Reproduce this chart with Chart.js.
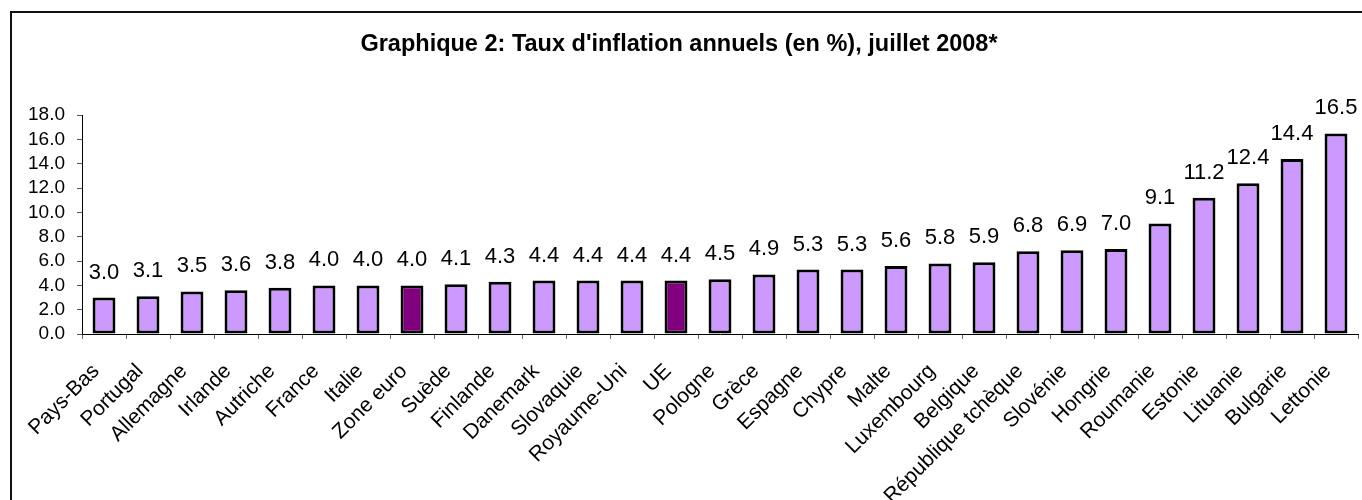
<!DOCTYPE html>
<html>
<head>
<meta charset="utf-8">
<script src="https://cdn.jsdelivr.net/npm/chart.js@4/dist/chart.umd.min.js"></script>
<style>
  body { margin: 0; background: #fff; }
  .frame { position: absolute; left: 10px; top: 11px; width: 1400px; height: 560px; border: 2px solid #111; }
  .wrap { position: absolute; left: 0; top: 0; width: 1362px; height: 500px; }
</style>
</head>
<body>
<div class="frame"></div>
<div class="wrap"><canvas id="inflation"></canvas></div>
<script>
// data
let countries = [
  'Pays-Bas', 'Portugal', 'Allemagne', 'Irlande', 'Autriche', 'France', 'Italie',
  'Zone euro', 'Suède', 'Finlande', 'Danemark', 'Slovaquie', 'Royaume-Uni', 'UE',
  'Pologne', 'Grèce', 'Espagne', 'Chypre', 'Malte', 'Luxembourg', 'Belgique',
  'République tchèque', 'Slovénie', 'Hongrie', 'Roumanie', 'Estonie', 'Lituanie',
  'Bulgarie', 'Lettonie'
];
let rates = [
  3.0, 3.1, 3.5, 3.6, 3.8, 4.0, 4.0,
  4.0, 4.1, 4.3, 4.4, 4.4, 4.4, 4.4,
  4.5, 4.9, 5.3, 5.3, 5.6, 5.8, 5.9,
  6.8, 6.9, 7.0, 9.1, 11.2, 12.4,
  14.4, 16.5
];
let highlighted = ['Zone euro', 'UE'];
let yTicks = [0, 2, 4, 6, 8, 10, 12, 14, 16, 18];

let colorBar = '#CC99FF';
let colorHighlight = '#800080';
let fontFamily = '"Liberation Sans", Arial, sans-serif';

// value labels above bars
let valueLabels = {
  id: 'valueLabels',
  afterDatasetsDraw(chart) {
    let ctx = chart.ctx;
    let meta = chart.getDatasetMeta(0);
    ctx.save();
    ctx.font = '22px ' + fontFamily;
    ctx.fillStyle = '#000';
    ctx.textAlign = 'center';
    ctx.textBaseline = 'alphabetic';
    meta.data.forEach((bar, i) => {
      ctx.fillText(rates[i].toFixed(1), bar.x, bar.y - 19);
    });
    ctx.restore();
  }
};

let chartCanvas = document.querySelector('#inflation');
new Chart(chartCanvas, {
  type: 'bar',
  plugins: [valueLabels],
  options: {
    responsive: true,
    maintainAspectRatio: false,
    animation: false,
    layout: {
      padding: { left: 0, right: 4, top: 0, bottom: 0 }
    },
    plugins: {
      legend: { display: false },
      tooltip: { enabled: false },
      title: {
        display: true,
        text: "Graphique 2: Taux d'inflation annuels (en %), juillet 2008*",
        color: '#000',
        font: { family: fontFamily, size: 23.5, weight: 'bold' },
        padding: { top: 30, bottom: 57 }
      }
    },
    scales: {
      x: {
        afterFit(scale) {
          scale.height = 166;
          scale.paddingLeft = 0;
          scale.paddingRight = 0;
        },
        grid: {
          display: true,
          drawOnChartArea: false,
          drawTicks: true,
          tickLength: 5,
          color: '#666',
          offset: true
        },
        border: { display: true, color: '#000', width: 1 },
        ticks: {
          autoSkip: false,
          maxRotation: 45,
          minRotation: 45,
          padding: 20,
          labelOffset: -8,
          color: '#000',
          font: { family: fontFamily, size: 21 }
        }
      },
      y: {
        min: 0,
        max: 18,
        afterFit(scale) {
          scale.width = 82;
          scale.paddingTop = 0;
          scale.paddingBottom = 0;
        },
        afterBuildTicks(scale) { scale.ticks = yTicks.map(v => ({ value: v })); },
        grid: {
          display: true,
          drawOnChartArea: false,
          drawTicks: true,
          tickLength: 5,
          color: '#555'
        },
        border: { display: true, color: '#000', width: 1 },
        ticks: {
          autoSkip: false,
          padding: 12,
          color: '#000',
          font: { family: fontFamily, size: 19 },
          callback: v => Number(v).toFixed(1)
        }
      }
    }
  },
  data: {
    labels: countries,
    datasets: [
      {
        data: rates,
        backgroundColor: countries.map(c => highlighted.includes(c) ? colorHighlight : colorBar),
        borderColor: '#000',
        borderWidth: 3,
        borderSkipped: false,
        barPercentage: 0.52,
        categoryPercentage: 1
      }
    ]
  }
});
</script>
</body>
</html>
